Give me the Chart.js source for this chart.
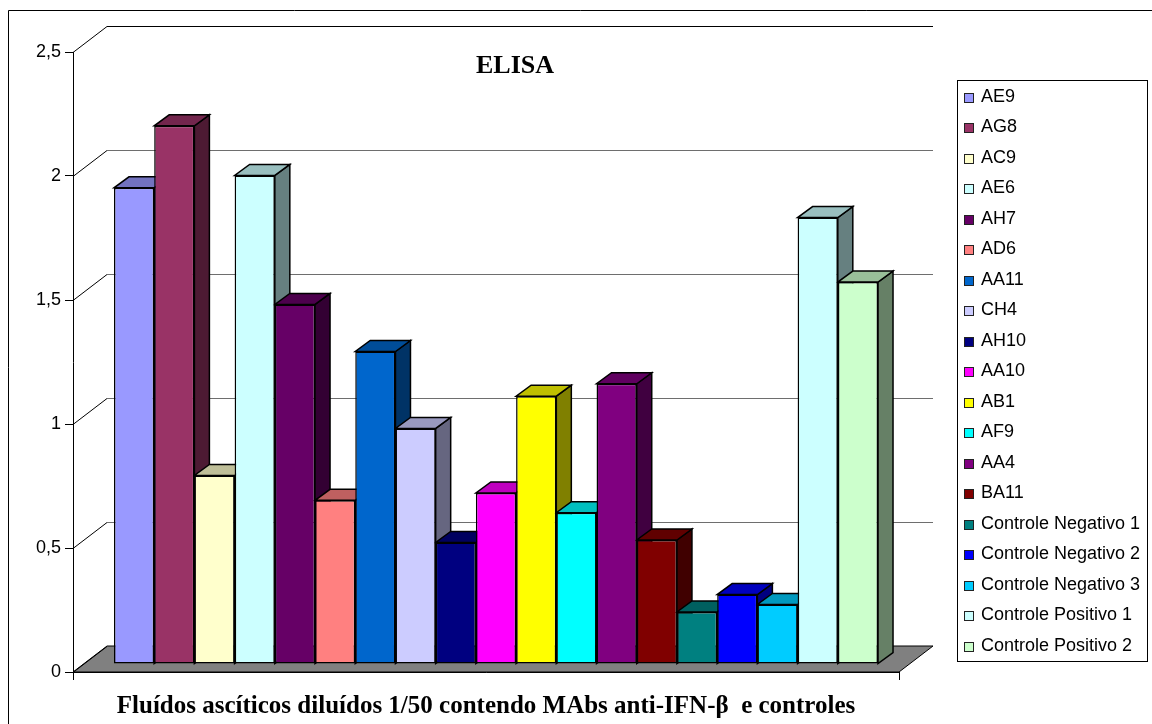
<!DOCTYPE html>
<html>
<head>
<meta charset="utf-8">
<title>ELISA</title>
<script src="https://cdn.jsdelivr.net/npm/chart.js@4/dist/chart.umd.min.js"></script>
<style>
  html, body { margin: 0; padding: 0; background: #fff; }
  #wrap { position: relative; width: 1152px; height: 724px; }
</style>
</head>
<body>
<div id="wrap"><canvas id="myChart" width="1152" height="724"></canvas></div>
<script>
// One series per sample, like the original Excel sheet
const seriesNames = [
  'AE9', 'AG8', 'AC9', 'AE6', 'AH7', 'AD6', 'AA11', 'CH4', 'AH10', 'AA10',
  'AB1', 'AF9', 'AA4', 'BA11', 'Controle Negativo 1', 'Controle Negativo 2',
  'Controle Negativo 3', 'Controle Positivo 1', 'Controle Positivo 2'
];
const seriesValues = [
  1.92, 2.17, 0.76, 1.97, 1.45, 0.66, 1.26, 0.95, 0.49, 0.69,
  1.08, 0.61, 1.13, 0.50, 0.21, 0.28, 0.24, 1.80, 1.54
];
const seriesColors = [
  '#9999FF', '#993366', '#FFFFCC', '#CCFFFF', '#660066', '#FF8080', '#0066CC', '#CCCCFF', '#000080', '#FF00FF',
  '#FFFF00', '#00FFFF', '#800080', '#800000', '#008080', '#0000FF', '#00CCFF', '#CCFFFF', '#CCFFCC'
];
const yMin = 0;
const yMax = 2.5;
const yStep = 0.5;
const chartTitle = 'ELISA';
const xAxisTitle = 'Fluídos ascíticos diluídos 1/50 contendo MAbs anti-IFN-β  e controles';

// 3D look: wall depth, bar offset inside the floor, bar depth
const WALL_DX = 34, WALL_DY = 26;
const BAR_OFF_X = 10, BAR_OFF_Y = 8;
const BAR_DX = 15, BAR_DY = 11;

// darken a hex colour by a factor (Excel shades top/side faces)
function shade(hex, f) {
  const n = parseInt(hex.slice(1), 16);
  const r = Math.round(((n >> 16) & 255) * f);
  const g = Math.round(((n >> 8) & 255) * f);
  const b = Math.round((n & 255) * f);
  return `rgb(${r},${g},${b})`;
}

function poly(ctx, pts, fill) {
  ctx.beginPath();
  ctx.moveTo(pts[0][0], pts[0][1]);
  for (let i = 1; i < pts.length; i++) ctx.lineTo(pts[i][0], pts[i][1]);
  ctx.closePath();
  if (fill) { ctx.fillStyle = fill; ctx.fill(); }
  ctx.stroke();
}

// Walls, floor and bar depth faces, drawn before the bar fronts
const excel3d = {
  id: 'excel3d',
  beforeDraw(chart) {
    const ctx = chart.ctx;
    ctx.save();
    ctx.fillStyle = '#fff';
    ctx.fillRect(0, 0, chart.width, chart.height);
    // outer chart border (only top and left fit in the picture)
    ctx.strokeStyle = '#000';
    ctx.lineWidth = 1;
    ctx.beginPath();
    ctx.moveTo(8.5, chart.height);
    ctx.lineTo(8.5, 10.5);
    ctx.lineTo(chart.width, 10.5);
    ctx.stroke();
    ctx.restore();
  },
  beforeDatasetsDraw(chart) {
    const { ctx, chartArea: a, scales: { y } } = chart;
    ctx.save();
    ctx.lineWidth = 1;
    ctx.strokeStyle = '#000';
    // floor
    poly(ctx, [[a.left, a.bottom], [a.right, a.bottom], [a.right + WALL_DX, a.bottom - WALL_DY], [a.left + WALL_DX, a.bottom - WALL_DY]], '#808080');
    // side wall diagonals and back wall gridlines
    y.ticks.forEach(t => {
      const py = Math.round(y.getPixelForValue(t.value)) + 0.5;
      ctx.strokeStyle = '#000';
      ctx.beginPath();
      ctx.moveTo(a.left, py);
      ctx.lineTo(a.left + WALL_DX, py - WALL_DY);
      ctx.stroke();
      if (t.value > yMin) {
        ctx.strokeStyle = t.value >= yMax ? '#000' : '#6e6e6e';
        ctx.beginPath();
        ctx.moveTo(a.left + WALL_DX, py - WALL_DY);
        ctx.lineTo(a.right + WALL_DX, py - WALL_DY);
        ctx.stroke();
      }
    });
    ctx.restore();

    // bars sit a little behind the front plane; fronts are drawn by Chart.js in this frame
    ctx.save();
    ctx.translate(BAR_OFF_X, -BAR_OFF_Y);
    ctx.lineWidth = 1.5;
    ctx.strokeStyle = '#000';
    ctx.lineJoin = 'miter';
    chart.data.datasets.forEach((ds, i) => {
      const meta = chart.getDatasetMeta(i);
      meta.data.forEach(bar => {
        const { x, y: top, base, width } = bar.getProps(['x', 'y', 'base', 'width'], true);
        const l = x - width / 2, r = x + width / 2;
        // side face
        poly(ctx, [[r, top], [r + BAR_DX, top - BAR_DY], [r + BAR_DX, base - BAR_DY], [r, base]], shade(ds.backgroundColor, 0.5));
        // top face
        poly(ctx, [[l, top], [r, top], [r + BAR_DX, top - BAR_DY], [l + BAR_DX, top - BAR_DY]], shade(ds.backgroundColor, 0.75));
      });
    });
  },
  afterDatasetsDraw(chart) {
    chart.ctx.restore();
  },
  afterDraw(chart) {
    const ctx = chart.ctx;
    ctx.save();
    // chart title inside the plot
    ctx.fillStyle = '#000';
    ctx.font = 'bold 26px "Liberation Serif", "Times New Roman", serif';
    ctx.textAlign = 'center';
    ctx.textBaseline = 'alphabetic';
    ctx.fillText(chartTitle, 515, 73);

    // legend box
    ctx.strokeStyle = '#000';
    ctx.lineWidth = 1;
    ctx.strokeRect(957.5, 80.5, 190, 581);
    ctx.font = '18px "Liberation Sans", Arial, sans-serif';
    ctx.textAlign = 'left';
    chart.data.datasets.forEach((ds, i) => {
      const base = Math.round(101.5 + i * 30.5);
      ctx.fillStyle = ds.backgroundColor;
      ctx.fillRect(964, base - 9, 10, 10);
      ctx.strokeStyle = '#222';
      ctx.strokeRect(964.5, base - 8.5, 9, 9);
      ctx.fillStyle = '#000';
      ctx.fillText(ds.label, 981, base);
    });
    ctx.restore();
  }
};

const datasets = seriesNames.map((name, i) => ({
  label: name,
  data: [seriesValues[i]],
  backgroundColor: seriesColors[i],
  borderColor: '#000',
  borderWidth: 1.5,
  borderSkipped: false,
  categoryPercentage: 0.925,
  barPercentage: 1
}));

const ctx = document.getElementById('myChart');
const myChart = new Chart(ctx, {
  type: 'bar',
  data: { labels: [''], datasets: datasets },
  options: {
    responsive: false,
    animation: false,
    devicePixelRatio: 1,
    layout: { padding: { left: 0, right: 253, top: 52, bottom: 0 } },
    plugins: {
      legend: { display: false },
      tooltip: { enabled: false },
      title: { display: false }
    },
    scales: {
      x: {
        type: 'category',
        offset: true,
        afterFit: s => { s.height = 52; },
        grid: { display: true, drawOnChartArea: false, drawTicks: true, tickLength: 8, offset: true, color: '#000' },
        border: { display: true, color: '#000', width: 1 },
        ticks: { display: false },
        title: {
          display: true,
          text: xAxisTitle,
          color: '#000',
          font: { family: '"Liberation Serif", "Times New Roman", serif', size: 25, weight: 'bold' },
          padding: { top: 0, bottom: 2 }
        }
      },
      y: {
        min: yMin,
        max: yMax,
        afterFit: s => { s.width = 73; },
        grid: { drawOnChartArea: false, drawTicks: true, tickLength: 8, color: '#000' },
        border: { display: true, color: '#000', width: 1 },
        ticks: {
          stepSize: yStep,
          padding: 4,
          color: '#000',
          font: { family: '"Liberation Sans", Arial, sans-serif', size: 18 },
          callback: v => String(v).replace('.', ',')
        }
      }
    }
  },
  plugins: [excel3d]
});
</script>
</body>
</html>
